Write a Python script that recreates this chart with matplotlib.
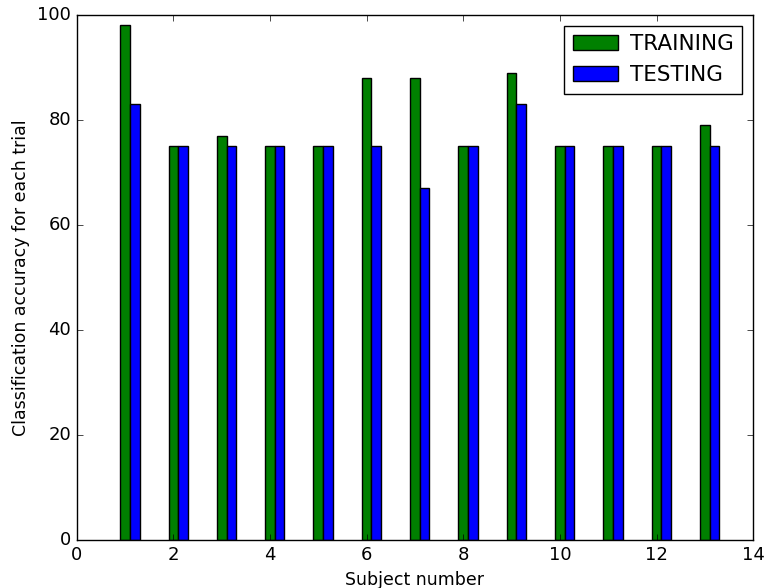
import matplotlib
matplotlib.use("Agg")
import matplotlib.pyplot as plt
import numpy as np

plt.style.use("classic")

subjects = [1, 2, 3, 4, 5, 6, 7, 8, 9, 10, 11, 12, 13]
training = [98, 75, 77, 75, 75, 88, 88, 75, 89, 75, 75, 75, 79]
testing = [83, 75, 75, 75, 75, 75, 67, 75, 83, 75, 75, 75, 75]

fig = plt.figure(figsize=(7.64, 5.88), dpi=100)
ax = fig.add_axes([0.1004, 0.0816, 0.8855, 0.8929])

x = np.array(subjects, dtype=float)
w = 0.2
ax.bar(x, training, width=w, align="center", color="g", edgecolor="k", linewidth=1, label="TRAINING")
ax.bar(x + w, testing, width=w, align="center", color="b", edgecolor="k", linewidth=1, label="TESTING")

ax.set_xlim(0, 14)
ax.set_ylim(0, 100)
ax.set_xticks([0, 2, 4, 6, 8, 10, 12, 14])
ax.set_yticks([0, 20, 40, 60, 80, 100])
ax.tick_params(labelsize=13)
ax.set_xlabel("Subject number", fontsize=12.5)
ax.set_ylabel("Classification accuracy for each trial", fontsize=12.5)
ax.legend(loc="upper right", fontsize=15.5, handletextpad=0.55, handlelength=2.1)

fig.savefig("out.png", dpi=100)
